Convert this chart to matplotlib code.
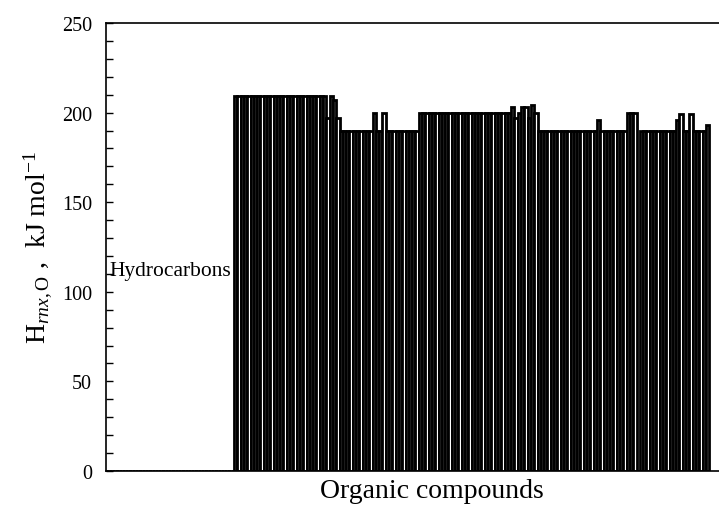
import numpy as np
import matplotlib
matplotlib.use("Agg")
import matplotlib.pyplot as plt
from matplotlib.ticker import MultipleLocator

plt.rcParams['font.family'] = ['Liberation Serif', 'DejaVu Serif']
plt.rcParams['mathtext.fontset'] = 'custom'
plt.rcParams['mathtext.rm'] = 'Liberation Serif'
plt.rcParams['mathtext.it'] = 'Liberation Serif:italic'

# heights of the compounds, in order along the x axis (0 = no bar / gap)
hydrocarbons = [0] * 39
group_a = [209] * 28 + [197, 209, 207, 197]
group_b = [190] * 10 + [200] + [190] * 2 + [200] + [190] * 10
group_c = [200] * 28 + [203, 197, 200, 203, 203, 197, 204, 200]
group_d = [190] * 18 + [196] + [190] * 8 + [200, 200, 200]
gap = [0]
group_e = [190] * 11 + [196, 199] + [190] * 2 + [199] + [190] * 4 + [193]

heights = np.array(hydrocarbons + group_a + group_b + group_c + group_d + gap + group_e)
idx = np.arange(len(heights)) - len(hydrocarbons)

fig = plt.figure(figsize=(7.19, 5.06), dpi=100)
# the right part of the frame runs past the edge of the picture
ax = fig.add_axes([0.1474, 0.0672, 0.9068, 0.8854])

ax.bar(idx, heights, width=1.0, align='edge', facecolor='white',
       edgecolor='black', linewidth=2.0)

ax.set_xlim(-38.8, 158.8)
ax.set_ylim(0, 250)
ax.set_xticks([])
ax.yaxis.set_major_locator(MultipleLocator(50))
ax.yaxis.set_minor_locator(MultipleLocator(10))
ax.tick_params(axis='y', which='both', direction='in', length=5, width=1,
               labelsize=14.5, pad=10)
for s in ax.spines.values():
    s.set_linewidth(1.2)

ax.set_xlabel('Organic compounds', fontsize=20, labelpad=5)
ax.set_ylabel(r'$\mathregular{H}_{\mathit{rnx},\mathregular{O}}$ ,  kJ mol$^{-1}$',
              fontsize=20, labelpad=6)

ax.text(-37.8, 112, 'Hydrocarbons', fontsize=15.5, va='center', ha='left')

fig.savefig('out.png', dpi=100)
